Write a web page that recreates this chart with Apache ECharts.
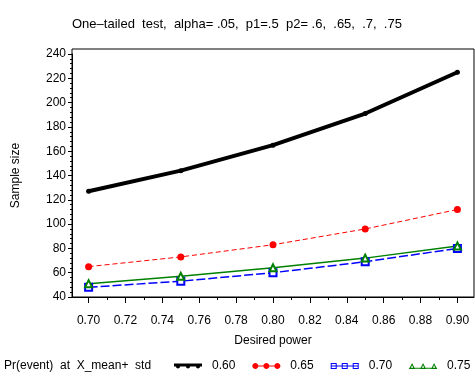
<!DOCTYPE html>
<html>
<head>
<meta charset="utf-8">
<script src="https://cdn.jsdelivr.net/npm/echarts@6/dist/echarts.min.js"></script>
<style>html,body{margin:0;padding:0;background:#fff}#c{width:475px;height:380px}</style>
</head>
<body>
<div id="c"></div>
<script>
// ---- text ----
const titleText = 'One\u2013tailed  test,  alpha= .05,  p1=.5  p2= .6,  .65,  .7,  .75';
const xTitle = 'Desired power';
const yTitle = 'Sample size';
const legendTitle = 'Pr(event)  at  X_mean+  std';

// ---- data ----
const powers = [0.70, 0.75, 0.80, 0.85, 0.90];
const seriesNames = ['0.60', '0.65', '0.70', '0.75'];
const n060 = [127, 144, 165, 191, 225];
const n065 = [65, 73, 83, 96, 112];
const n070 = [48, 53, 60, 69, 80];
const n075 = [51, 57, 64, 72, 82];

// ---- tick labels ----
const xTickValues = [0.70, 0.72, 0.74, 0.76, 0.78, 0.80, 0.82, 0.84, 0.86, 0.88, 0.90];
const xMinorValues = [0.71, 0.73, 0.75, 0.77, 0.79, 0.81, 0.83, 0.85, 0.87, 0.89];
const yMin = 40, yMax = 240, yStep = 20;
const xMin = 0.691, xMax = 0.909;

const FONT = '"Liberation Sans", Arial, sans-serif';
const colors = ['#000000', '#ff0000', '#0000ff', '#008000'];

function pairs(vals) { return powers.map((p, i) => [p, vals[i]]); }

// clockwise bezier circle for legend icon paths
function circ(cx, cy, r) {
  const k = 0.5523 * r;
  const f = n => +n.toFixed(3);
  return 'M' + f(cx - r) + ',' + f(cy) +
    'C' + f(cx - r) + ',' + f(cy - k) + ' ' + f(cx - k) + ',' + f(cy - r) + ' ' + f(cx) + ',' + f(cy - r) +
    'C' + f(cx + k) + ',' + f(cy - r) + ' ' + f(cx + r) + ',' + f(cy - k) + ' ' + f(cx + r) + ',' + f(cy) +
    'C' + f(cx + r) + ',' + f(cy + k) + ' ' + f(cx + k) + ',' + f(cy + r) + ' ' + f(cx) + ',' + f(cy + r) +
    'C' + f(cx - k) + ',' + f(cy + r) + ' ' + f(cx - r) + ',' + f(cy + k) + ' ' + f(cx - r) + ',' + f(cy) + 'Z';
}

const icons = [
  'path://M0,0H28V3H0Z' + circ(4, 3, 2) + circ(14, 3, 2) + circ(24, 3, 2),
  'path://M0,2.5H28V3.5H0Z' + circ(3, 3, 3) + circ(14, 3, 3) + circ(25, 3, 3),
  'path://M0,2.5H28V3.5H0Z M0,0H6V6H0Z M1,1V5H5V1Z M11,0H17V6H11Z M12,1V5H16V1Z M22,0H28V6H22Z M23,1V5H27V1Z',
  'path://M0,4.8H28V5.8H0Z M0,6L3,0L6,6Z M1.6,5.2H4.4L3,2.2Z M11,6L14,0L17,6Z M12.6,5.2H15.4L14,2.2Z M22,6L25,0L28,6Z M23.6,5.2H26.4L25,2.2Z'
];

const chart = echarts.init(document.getElementById('c'), null, {renderer: 'canvas'});
chart.setOption({
  animation: false,
  backgroundColor: '#fff',
  textStyle: {fontFamily: FONT, color: '#000'},
  title: [
    {text: titleText, left: 72, top: 18, padding: 0,
     textStyle: {fontFamily: FONT, fontSize: 13, fontWeight: 'normal', color: '#000'}},
    {text: legendTitle, left: 4, top: 360, padding: 0,
     textStyle: {fontFamily: FONT, fontSize: 12, fontWeight: 'normal', color: '#000'}}
  ],
  grid: [
    {left: 72, right: 1, top: 54, bottom: 83, containLabel: false},
    {left: 72, right: 1, top: 49, bottom: 83, show: true, borderColor: '#000', borderWidth: 1, backgroundColor: 'transparent'}
  ],
  legend: {
    left: 174, top: 360, width: 310, padding: 0, itemWidth: 28, itemHeight: 8, itemGap: 17,
    textStyle: {fontFamily: FONT, fontSize: 12, color: '#000', padding: [0, 0, 0, 5]},
    data: seriesNames.map((n, i) => ({name: n, icon: icons[i], itemStyle: {color: colors[i], borderWidth: 0}}))
  },
  xAxis: [
    {gridIndex: 0, type: 'value', min: xMin, max: xMax, position: 'bottom',
     name: xTitle, nameLocation: 'middle', nameGap: 38,
     nameTextStyle: {fontFamily: FONT, fontSize: 12, color: '#000'},
     axisLine: {show: true, lineStyle: {color: '#000', width: 1}},
     axisTick: {show: true, customValues: xTickValues, length: 6, lineStyle: {color: '#000'}},
     axisLabel: {show: true, customValues: xTickValues, margin: 18, fontFamily: FONT, fontSize: 12, color: '#000',
       formatter: v => v.toFixed(2)},
     splitLine: {show: false}},
    {gridIndex: 0, type: 'value', min: xMin, max: xMax, position: 'bottom', offset: 0,
     axisLine: {show: false},
     axisTick: {show: true, customValues: xMinorValues, length: 3, lineStyle: {color: '#000'}},
     axisLabel: {show: false},
     splitLine: {show: false}},
    {gridIndex: 1, type: 'value', show: false, min: 0, max: 1}
  ],
  yAxis: [
    {gridIndex: 0, type: 'value', min: yMin, max: yMax, interval: yStep,
     name: yTitle, nameLocation: 'middle', nameGap: 50, nameRotate: 90,
     nameTextStyle: {fontFamily: FONT, fontSize: 12, color: '#000'},
     axisLine: {show: true, lineStyle: {color: '#000', width: 1}},
     axisTick: {show: true, length: 4, lineStyle: {color: '#000'}},
     minorTick: {show: true, splitNumber: 5, length: 2, lineStyle: {color: '#000'}},
     axisLabel: {margin: 6, fontFamily: FONT, fontSize: 12, color: '#000'},
     splitLine: {show: false}},
    {gridIndex: 1, type: 'value', show: false, min: 0, max: 1}
  ],
  series: [
    {name: seriesNames[0], type: 'line', xAxisIndex: 0, yAxisIndex: 0, data: pairs(n060),
     symbol: 'circle', symbolSize: 5, itemStyle: {color: colors[0]},
     lineStyle: {color: colors[0], width: 4}},
    {name: seriesNames[1], type: 'line', xAxisIndex: 0, yAxisIndex: 0, data: pairs(n065),
     symbol: 'circle', symbolSize: 7, itemStyle: {color: colors[1]},
     lineStyle: {color: colors[1], width: 1, type: [5, 3]}},
    {name: seriesNames[2], type: 'line', xAxisIndex: 0, yAxisIndex: 0, data: pairs(n070),
     symbol: 'emptyRect', symbolSize: 7, itemStyle: {color: colors[2], borderWidth: 1.2},
     lineStyle: {color: colors[2], width: 1.5, type: [9, 3]}},
    {name: seriesNames[3], type: 'line', xAxisIndex: 0, yAxisIndex: 0, data: pairs(n075),
     symbol: 'emptyTriangle', symbolSize: 7, itemStyle: {color: colors[3], borderWidth: 1.2},
     lineStyle: {color: colors[3], width: 1.5}}
  ]
});
</script>
</body>
</html>
